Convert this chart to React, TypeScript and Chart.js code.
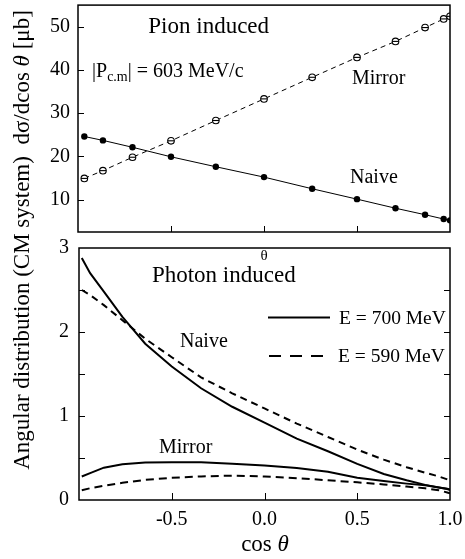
import React, { useEffect, useRef } from 'react';
import { Chart, registerables } from 'chart.js';

Chart.register(...registerables);

// ---- Data ----
// Pion induced: cos(theta) at 15 degree steps (165..0 deg)
const pionCos = [-0.966, -0.866, -0.707, -0.5, -0.259, 0, 0.259, 0.5, 0.707, 0.866, 0.966, 1.0];
const pionNaive = [24.6, 23.7, 22.1, 19.9, 17.6, 15.2, 12.5, 10.1, 8.0, 6.5, 5.5, 5.2];
const pionMirror = [14.9, 16.7, 19.8, 23.6, 28.3, 33.3, 38.3, 42.9, 46.6, 49.8, 51.8, 52.4];

// Photon induced: cos(theta) at 10 degree steps (170..0 deg)
const photonCos = [-0.985, -0.94, -0.866, -0.766, -0.643, -0.5, -0.342, -0.174, 0, 0.174, 0.342, 0.5, 0.643, 0.766, 0.866, 0.94, 0.985, 1.0];
const naive700 = [2.88, 2.7, 2.48, 2.18, 1.86, 1.59, 1.33, 1.11, 0.92, 0.73, 0.58, 0.43, 0.31, 0.235, 0.18, 0.15, 0.13, 0.12];
const naive590 = [2.5, 2.44, 2.32, 2.14, 1.92, 1.7, 1.46, 1.27, 1.09, 0.91, 0.75, 0.6, 0.48, 0.39, 0.325, 0.28, 0.245, 0.23];
const mirror700 = [0.28, 0.32, 0.385, 0.425, 0.445, 0.45, 0.448, 0.433, 0.41, 0.38, 0.335, 0.265, 0.225, 0.195, 0.175, 0.15, 0.135, 0.125];
const mirror590 = [0.115, 0.14, 0.17, 0.205, 0.24, 0.265, 0.28, 0.29, 0.28, 0.26, 0.235, 0.21, 0.185, 0.16, 0.14, 0.115, 0.09, 0.08];

// Ticks
const topYTicks = [10, 20, 30, 40, 50];
const topXTickMarks = [-0.5, 0, 0.5];
const botYTicks = [0, 1, 2, 3];
const botYTickMarks = [0.5, 1, 1.5, 2, 2.5];
const botXTicks = [-0.5, 0, 0.5, 1.0];
const botXTickMarks = [-0.5, 0, 0.5];

const SERIF = "'Liberation Serif', 'DejaVu Serif', 'Times New Roman', serif";

function xy(xs: number[], ys: number[]) {
  return xs.map((x, i) => ({ x, y: ys[i] }));
}

function drawFrame(chart: any) {
  const { ctx, chartArea: a } = chart;
  ctx.save();
  ctx.strokeStyle = '#000';
  ctx.lineWidth = 1.5;
  ctx.strokeRect(a.left, a.top, a.right - a.left, a.bottom - a.top);
  ctx.restore();
}

function text(ctx: CanvasRenderingContext2D, s: string, x: number, y: number, size: number, align: CanvasTextAlign = 'left', italic = false) {
  ctx.font = `${italic ? 'italic ' : ''}${size}px ${SERIF}`;
  ctx.textAlign = align;
  ctx.textBaseline = 'alphabetic';
  ctx.fillStyle = '#000';
  ctx.fillText(s, x, y);
}

const noPad = (s: any) => {
  s.paddingTop = 0;
  s.paddingBottom = 0;
  s.paddingLeft = 0;
  s.paddingRight = 0;
};

const topPlugin = {
  id: 'topDecor',
  afterDraw(chart: any) {
    const { ctx, chartArea: a, scales } = chart;
    drawFrame(chart);
    ctx.save();
    ctx.strokeStyle = '#000';
    ctx.lineWidth = 1;
    ctx.beginPath();
    topYTicks.forEach((v) => {
      const y = Math.round(scales.y.getPixelForValue(v)) + 0.5;
      ctx.moveTo(a.left, y);
      ctx.lineTo(a.left + 6, y);
    });
    topXTickMarks.forEach((v) => {
      const x = Math.round(scales.x.getPixelForValue(v)) + 0.5;
      ctx.moveTo(x, a.bottom);
      ctx.lineTo(x, a.bottom - 6);
    });
    ctx.stroke();

    text(ctx, 'Pion induced', 208.7, 33, 23, 'center');
    // |P_c.m| = 603 MeV/c
    ctx.font = `20px ${SERIF}`;
    let x = 92;
    text(ctx, '|P', x, 77, 20);
    x += ctx.measureText('|P').width;
    text(ctx, 'c.m', x, 81, 14);
    x += ctx.measureText('c.m').width;
    text(ctx, '| = 603 MeV/c', x, 77, 20);
    text(ctx, 'Mirror', 352, 83.5, 20);
    text(ctx, 'Naive', 350, 183, 20);
    ctx.restore();
  },
};

const botPlugin = {
  id: 'botDecor',
  afterDraw(chart: any) {
    const { ctx, chartArea: a, scales } = chart;
    drawFrame(chart);
    ctx.save();
    ctx.strokeStyle = '#000';
    ctx.lineWidth = 1;
    ctx.beginPath();
    botYTickMarks.forEach((v) => {
      const y = Math.round(scales.y.getPixelForValue(v)) + 0.5;
      ctx.moveTo(a.left, y);
      ctx.lineTo(a.left + 6, y);
      ctx.moveTo(a.right, y);
      ctx.lineTo(a.right - 6, y);
    });
    botXTickMarks.forEach((v) => {
      const x = Math.round(scales.x.getPixelForValue(v)) + 0.5;
      ctx.moveTo(x, a.bottom);
      ctx.lineTo(x, a.bottom - 7);
    });
    ctx.stroke();

    // small theta at top
    text(ctx, 'θ', 264, 260, 15, 'center');
    text(ctx, 'Photon induced', 223.8, 281.5, 23, 'center');
    text(ctx, 'Naive', 180, 347, 20);
    text(ctx, 'Mirror', 159, 453, 20);

    // legend
    ctx.lineWidth = 2;
    ctx.setLineDash([]);
    ctx.beginPath();
    ctx.moveTo(268, 317.5);
    ctx.lineTo(330, 317.5);
    ctx.stroke();
    ctx.setLineDash([12, 9]);
    ctx.beginPath();
    ctx.moveTo(269, 356);
    ctx.lineTo(324, 356);
    ctx.stroke();
    ctx.setLineDash([]);
    text(ctx, 'E = 700 MeV', 339, 323.5, 19.5);
    text(ctx, 'E = 590 MeV', 338, 362, 19.5);

    // x title: cos θ
    ctx.font = `23px ${SERIF}`;
    const w1 = ctx.measureText('cos ').width;
    ctx.font = `italic 23px ${SERIF}`;
    const w2 = ctx.measureText('θ').width;
    const sx = 265 - (w1 + w2) / 2;
    text(ctx, 'cos ', sx, 551, 23);
    text(ctx, 'θ', sx + w1, 551, 23, 'left', true);

    // y title (rotated), spanning both panels
    const parts: [string, boolean][] = [
      ['Angular distribution (CM system)  dσ/dcos ', false],
      ['θ', true],
      [' [μb]', false],
    ];
    const fs = 23;
    let total = 0;
    const widths = parts.map(([s, it]) => {
      ctx.font = `${it ? 'italic ' : ''}${fs}px ${SERIF}`;
      const w = ctx.measureText(s).width;
      total += w;
      return w;
    });
    ctx.translate(28.5, 240);
    ctx.rotate(-Math.PI / 2);
    let px = -total / 2;
    parts.forEach(([s, it], i) => {
      text(ctx, s, px, 0, fs, 'left', it);
      px += widths[i];
    });
    ctx.restore();
  },
};

export default function App() {
  const topRef = useRef<HTMLCanvasElement>(null);
  const botRef = useRef<HTMLCanvasElement>(null);

  useEffect(() => {
    document.body.style.margin = '0';
    const tickFont = { family: SERIF, size: 20 };

    const c1 = new Chart(topRef.current!, {
      type: 'line',
      data: {
        datasets: [
          {
            label: 'Mirror bar',
            data: xy(pionCos, pionMirror),
            showLine: false,
            borderColor: '#000',
            pointStyle: 'line',
            pointRadius: 3.3,
            pointBorderColor: '#000',
            pointBorderWidth: 1.1,
            order: 0,
          },
          {
            label: 'Naive',
            data: xy(pionCos, pionNaive),
            borderColor: '#000',
            backgroundColor: '#000',
            borderWidth: 1,
            pointRadius: 3.2,
            pointStyle: 'circle',
            pointBackgroundColor: '#000',
            pointBorderColor: '#000',
            pointBorderWidth: 0,
            tension: 0,
            order: 1,
          },
          {
            label: 'Mirror',
            data: xy(pionCos, pionMirror),
            borderColor: '#000',
            borderWidth: 1,
            borderDash: [5, 4],
            pointStyle: 'circle',
            pointRadius: 3.3,
            pointBackgroundColor: '#fff',
            pointBorderColor: '#000',
            pointBorderWidth: 1.1,
            tension: 0,
            order: 2,
          },
        ],
      },
      options: {
        responsive: false,
        animation: false,
        events: [],
        layout: { padding: { top: 3, right: 15, left: 0, bottom: 0 } },
        plugins: { legend: { display: false }, tooltip: { enabled: false } },
        scales: {
          x: {
            type: 'linear',
            min: -1,
            max: 1,
            grid: { display: false },
            border: { display: false },
            ticks: { display: false },
            afterFit: (s: any) => {
              s.height = 327;
              noPad(s);
            },
          },
          y: {
            type: 'linear',
            min: 2.5,
            max: 55,
            grid: { display: false, drawTicks: false },
            border: { display: false },
            afterBuildTicks: (s: any) => {
              s.ticks = topYTicks.map((v) => ({ value: v }));
            },
            ticks: { font: tickFont, color: '#000', padding: 8, autoSkip: false },
            afterFit: (s: any) => {
              s.width = 78;
              noPad(s);
            },
          },
        },
      },
      plugins: [topPlugin],
    });

    const lineDs = (label: string, data: number[], dash: number[]) => ({
      label,
      data: xy(photonCos, data),
      borderColor: '#000',
      borderWidth: 2,
      borderDash: dash,
      pointRadius: 0,
      tension: 0,
      fill: false,
    });

    const c2 = new Chart(botRef.current!, {
      type: 'line',
      data: {
        datasets: [
          lineDs('Naive 700 MeV', naive700, []),
          lineDs('Naive 590 MeV', naive590, [7, 5]),
          lineDs('Mirror 700 MeV', mirror700, []),
          lineDs('Mirror 590 MeV', mirror590, [8, 5]),
        ],
      },
      options: {
        responsive: false,
        animation: false,
        events: [],
        layout: { padding: { top: 248, right: 15, left: 0, bottom: 0 } },
        plugins: { legend: { display: false }, tooltip: { enabled: false } },
        scales: {
          x: {
            type: 'linear',
            min: -1,
            max: 1,
            grid: { display: false, drawTicks: false },
            border: { display: false },
            afterBuildTicks: (s: any) => {
              s.ticks = botXTicks.map((v) => ({ value: v }));
            },
            ticks: {
              font: tickFont,
              color: '#000',
              padding: 8,
              autoSkip: false,
              maxRotation: 0,
              callback: (v: any) => Number(v).toFixed(1),
            },
            afterFit: (s: any) => {
              s.height = 59;
              noPad(s);
            },
          },
          y: {
            type: 'linear',
            min: 0,
            max: 3,
            grid: { display: false, drawTicks: false },
            border: { display: false },
            afterBuildTicks: (s: any) => {
              s.ticks = botYTicks.map((v) => ({ value: v }));
            },
            ticks: { font: tickFont, color: '#000', padding: 10, autoSkip: false },
            afterFit: (s: any) => {
              s.width = 79;
              noPad(s);
            },
          },
        },
      },
      plugins: [botPlugin],
    });

    return () => {
      c1.destroy();
      c2.destroy();
    };
  }, []);

  return (
    <div style={{ position: 'fixed', left: 0, top: 0, width: 465, height: 559, background: '#fff' }}>
      <canvas ref={topRef} width={465} height={559} style={{ position: 'absolute', left: 0, top: 0 }} />
      <canvas ref={botRef} width={465} height={559} style={{ position: 'absolute', left: 0, top: 0 }} />
    </div>
  );
}
